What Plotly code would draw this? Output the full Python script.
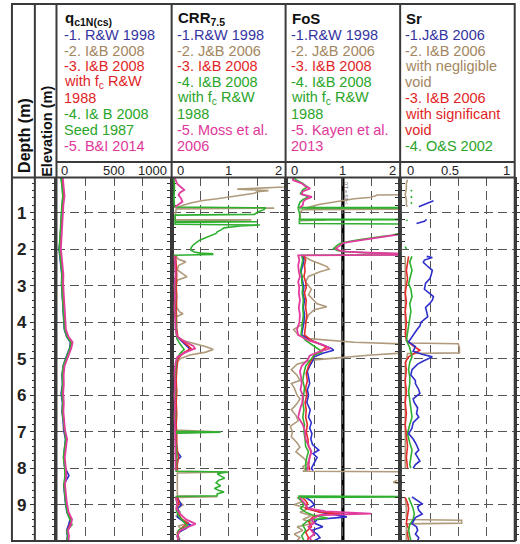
import plotly.graph_objects as go

W, H = 520, 544
FONT = "Arial, Liberation Sans, sans-serif"

# ---------------- data ----------------
# q_c1N(cs) panel: shared depth grid (m)
qc_depth = [0.05, 0.3, 0.55, 0.8, 1.05, 1.3, 1.55, 1.8, 2.0, 2.2,
            2.45, 2.7, 2.95, 3.2, 3.45, 3.7, 3.95, 4.2, 4.4, 4.55,
            4.7, 4.85, 5.0, 5.2, 5.45, 5.7, 5.95, 6.2, 6.45, 6.7,
            6.95, 7.2, 7.45, 7.7, 7.95, 8.2, 8.45, 8.7, 8.95, 9.2,
            9.4, 9.55, 9.7, 9.85, 9.98]
qc_rw1998 = [40, 52, 56, 48, 44, 40, 36, 30, 22, 30,
             40, 46, 44, 48, 52, 56, 60, 68, 88, 120,
             115, 95, 78, 58, 48, 52, 40, 52, 48, 58,
             62, 78, 70, 62, 70, 108, 62, 68, 78, 90,
             118, 105, 88, 95, 90]
qc_ib2008 = [42, 55, 60, 50, 46, 42, 38, 33, 25, 34,
             44, 50, 47, 50, 55, 58, 63, 72, 95, 128,
             122, 100, 82, 62, 52, 55, 48, 56, 52, 62,
             66, 85, 74, 64, 72, 76, 66, 72, 82, 96,
             125, 112, 92, 100, 95]
qc_ib2008_fc = [45, 58, 62, 52, 48, 44, 40, 35, 28, 36,
                46, 52, 50, 54, 58, 62, 66, 75, 98, 135,
                125, 104, 85, 64, 55, 58, 50, 58, 54, 64,
                68, 88, 78, 66, 75, 80, 68, 75, 85, 100,
                130, 118, 95, 104, 98]
qc_ib2008_seed = [40, 50, 55, 47, 42, 38, 34, 30, 24, 32,
                  42, 48, 45, 50, 54, 57, 61, 70, 92, 124,
                  118, 98, 80, 58, 50, 53, 46, 54, 50, 60,
                  64, 80, 70, 60, 70, 74, 64, 70, 80, 92,
                  120, 135, 90, 98, 92]
qc_bi2014 = [55, 65, 70, 60, 56, 52, 48, 44, 38, 45,
             55, 60, 58, 62, 66, 70, 74, 82, 105, 140,
             130, 110, 90, 70, 62, 64, 58, 64, 60, 70,
             74, 92, 82, 72, 80, 86, 74, 80, 90, 105,
             135, 125, 100, 108, 104]

# CRR7.5 panel: (depth, value) pairs, None = no value
crr_jb2006 = [(0.03, 2.6), (0.26, 2.3), (0.3, 1.98), (0.36, 1.15), (0.4, 1.7), (0.43, 1.5), (0.47, 1.45),
              (0.52, 1.25), (0.57, 1.0), (0.62, 0.8), (0.67, 0.55), (0.73, 0.35), (0.8, 0.2), (0.86, 0.1),
              (0.88, 1.8), (0.9, 0.08), (1.0, 0.07), (1.1, 0.06), (1.19, 0.06), (1.2, 1.4), (1.22, 0.06),
              (1.25, None), (2.18, 0.07), (2.28, 0.12), (2.35, 0.25), (2.45, 0.12), (2.57, 0.1), (2.66, 0.18),
              (2.76, 0.27), (2.85, 0.1), (3.0, 0.08), (3.2, 0.07), (3.4, 0.08), (3.6, 0.09), (3.72, 0.14),
              (3.77, 0.2), (3.85, 0.08), (4.0, 0.07), (4.2, 0.07), (4.4, 0.09), (4.5, 0.2), (4.6, 0.45),
              (4.68, 0.62), (4.75, 0.73), (4.82, 0.6), (4.9, 0.32), (5.0, 0.15), (5.1, 0.09), (5.4, 0.07),
              (5.8, 0.08), (6.2, 0.07), (6.6, 0.08), (6.95, 0.07), (7.0, 0.8), (7.03, 0.07), (7.3, 0.08),
              (7.6, 0.09), (7.9, 0.07), (8.08, 0.08), (8.1, 0.96), (8.13, 0.1), (8.4, 0.1), (8.75, 0.1),
              (8.78, 0.8), (8.8, 0.08), (8.9, 0.12), (9.0, 0.2), (9.1, 0.1), (9.2, 0.15), (9.3, 0.08),
              (9.4, 0.2), (9.5, 0.3), (9.58, 0.12), (9.7, 0.18), (9.8, 0.1), (9.95, 0.15)]
crr_rw1998 = [(2.18, 0.06), (2.4, 0.07), (2.7, 0.08), (3.0, 0.07), (3.3, 0.08), (3.6, 0.07), (3.9, 0.08),
              (4.2, 0.08), (4.4, 0.1), (4.55, 0.2), (4.68, 0.3), (4.75, 0.33), (4.85, 0.2), (5.0, 0.1),
              (5.3, 0.08), (5.6, 0.07), (5.9, 0.08), (6.2, 0.07), (6.5, 0.08), (6.8, 0.07), (7.1, 0.08),
              (7.3, 0.08), (7.55, 0.1), (7.68, 0.16), (7.8, 0.09), (8.05, 0.1), (8.08, None), (8.8, 0.1),
              (8.9, 0.14), (9.0, 0.17), (9.1, 0.1), (9.2, 0.13), (9.33, 0.1), (9.45, 0.2), (9.55, 0.33),
              (9.65, 0.25), (9.75, 0.12), (9.88, 0.1), (9.98, 0.14)]
crr_ib2008 = [(2.18, 0.07), (2.4, 0.08), (2.7, 0.09), (3.0, 0.08), (3.3, 0.09), (3.6, 0.08), (3.9, 0.09),
              (4.2, 0.09), (4.4, 0.11), (4.55, 0.22), (4.65, 0.3), (4.72, 0.34), (4.85, 0.2), (5.0, 0.11),
              (5.3, 0.09), (5.6, 0.08), (5.9, 0.09), (6.2, 0.08), (6.5, 0.09), (6.8, 0.08), (7.1, 0.09),
              (7.4, 0.09), (7.7, 0.12), (7.9, 0.1), (8.06, 0.1), (8.08, None), (8.8, 0.1), (8.95, 0.13),
              (9.1, 0.09), (9.25, 0.12), (9.4, 0.18), (9.5, 0.28), (9.6, 0.2), (9.75, 0.1), (9.9, 0.12),
              (9.98, 0.1)]
crr_ib2008_fc = [(0.03, 0.04), (0.3, 0.05), (0.6, 0.04), (0.85, 0.05), (0.87, 1.65), (0.92, 1.62),
                 (0.98, 1.52), (1.05, 1.45), (1.07, 0.06), (1.15, 0.06), (1.24, 0.06), (1.25, 1.5),
                 (1.27, 0.06), (1.32, 0.06), (1.34, 1.55), (1.37, 1.2), (1.42, 0.92), (1.48, 0.86),
                 (1.53, 0.8), (1.57, 0.78), (1.62, 0.7), (1.66, 0.63), (1.71, 0.57), (1.75, 0.5),
                 (1.8, 0.45), (1.84, 0.42), (1.9, 0.37), (1.97, 0.34), (2.03, 0.34), (2.08, 0.4),
                 (2.11, 0.5), (2.13, 0.72), (2.15, 0.72), (2.17, 0.05), (2.4, 0.06), (2.7, 0.07),
                 (3.0, 0.06), (3.3, 0.07), (3.6, 0.06), (3.9, 0.07), (4.2, 0.07), (4.45, 0.09), (4.6, 0.15),
                 (4.75, 0.22), (4.85, 0.15), (5.0, 0.09), (5.3, 0.07), (5.6, 0.06), (5.9, 0.07), (6.2, 0.06),
                 (6.5, 0.07), (6.8, 0.06), (6.99, 0.07), (7.01, 0.86), (7.04, 0.07), (7.3, 0.07), (7.6, 0.09),
                 (7.9, 0.08), (8.08, 0.08), (8.1, 0.99), (8.15, 0.8), (8.2, 0.85), (8.27, 0.93), (8.33, 0.82),
                 (8.4, 0.78), (8.48, 0.86), (8.55, 0.75), (8.6, 0.82), (8.65, 0.92), (8.7, 0.8), (8.75, 0.8),
                 (8.77, 0.08), (8.85, 0.08), (9.0, 0.1), (9.15, 0.08), (9.3, 0.12), (9.45, 0.2), (9.58, 0.28),
                 (9.7, 0.12), (9.85, 0.1), (9.98, 0.12)]
crr_moss2006 = [(0.03, 0.05), (0.12, 0.07), (0.22, 0.1), (0.3, 0.16), (0.38, 0.22), (0.45, 0.15), (0.52, 0.12),
                (0.6, 0.16), (0.7, 0.19), (0.78, 0.12), (0.85, 0.06), (0.9, None), (2.18, 0.05), (2.4, 0.06),
                (2.7, 0.07), (3.0, 0.05), (3.3, 0.06), (3.6, 0.05), (3.9, 0.06), (4.2, 0.07), (4.4, 0.1),
                (4.55, 0.25), (4.65, 0.38), (4.72, 0.41), (4.82, 0.25), (4.95, 0.1), (5.1, 0.07), (5.4, 0.05),
                (5.7, 0.06), (6.0, 0.05), (6.3, 0.06), (6.6, 0.05), (6.9, 0.06), (7.2, 0.06), (7.5, 0.07),
                (7.8, 0.06), (8.06, 0.07), (8.08, None), (8.8, 0.07), (8.95, 0.1), (9.1, 0.08), (9.25, 0.15),
                (9.4, 0.25), (9.52, 0.42), (9.6, 0.3), (9.7, 0.15), (9.85, 0.1), (9.98, 0.12)]

# FoS panel
fos_rw1998 = [(2.18, 0.3), (2.3, 0.32), (2.45, 0.3), (2.6, 0.27), (2.75, 0.28), (2.9, 0.3), (3.05, 0.32),
              (3.2, 0.3), (3.4, 0.33), (3.6, 0.31), (3.8, 0.33), (4.0, 0.32), (4.2, 0.3), (4.35, 0.28),
              (4.5, 0.45), (4.62, 0.65), (4.72, 0.8), (4.77, 0.84), (4.85, 0.65), (4.95, 0.5), (5.04, 0.48),
              (5.2, 0.42), (5.35, 0.38), (5.5, 0.4), (5.68, 0.42), (5.85, 0.38), (6.0, 0.4), (6.2, 0.37),
              (6.4, 0.43), (6.6, 0.4), (6.75, 0.45), (6.9, 0.42), (7.05, 0.46), (7.2, 0.44), (7.35, 0.47),
              (7.5, 0.58), (7.6, 0.48), (7.7, 0.55), (7.87, 0.5), (8.0, 0.45), (8.06, 0.48), (8.08, None),
              (8.8, 0.35), (8.9, 0.45), (9.0, 0.5), (9.1, 0.4), (9.2, 0.6), (9.33, 1.07), (9.4, 0.55),
              (9.5, 0.5), (9.6, 0.65), (9.7, 0.45), (9.8, 0.55), (9.9, 0.6), (9.98, 0.5)]
fos_jb2006 = [(0.03, 3.0), (0.5, 3.0), (0.52, 1.6), (0.55, 1.55), (0.58, 1.5), (0.62, 1.2), (0.66, 1.05),
              (0.72, 0.8), (0.78, 0.58), (0.84, 0.43), (0.88, 0.35), (0.9, 3.0), (0.92, 0.3), (1.0, 0.25),
              (1.1, 0.26), (1.19, 0.25), (1.2, 0.7), (1.22, 0.25), (1.25, None), (2.18, 0.3), (2.3, 0.43),
              (2.4, 0.6), (2.48, 0.72), (2.55, 0.76), (2.62, 0.6), (2.75, 0.4), (2.9, 0.35), (3.1, 0.45),
              (3.25, 0.4), (3.4, 0.49), (3.5, 0.55), (3.58, 0.72), (3.66, 0.5), (3.8, 0.4), (4.0, 0.35),
              (4.2, 0.14), (4.35, 0.22), (4.45, 0.4), (4.55, 1.2), (4.62, 2.5), (4.8, 2.5), (4.9, 1.5),
              (4.97, 0.9), (5.04, 0.45), (5.15, 0.2), (5.3, 0.1), (5.45, 0.2), (5.6, 0.25), (5.68, 0.1),
              (5.8, 0.15), (6.0, 0.2), (6.1, 0.25), (6.23, 0.2), (6.4, 0.1), (6.55, 0.18), (6.7, 0.22),
              (6.85, 0.08), (7.0, 0.12), (7.14, 0.1), (7.3, 0.2), (7.42, 0.25), (7.55, 0.18), (7.7, 0.3),
              (7.87, 0.4), (7.95, 0.3), (8.05, 0.35), (8.08, 0.3), (8.1, 3.0), (8.12, None), (8.33, 1.95),
              (8.38, 1.88), (8.42, 1.98), (8.44, None), (8.8, 0.2), (8.9, 0.3), (9.0, 0.15), (9.1, 0.4),
              (9.2, 0.25), (9.3, 0.45), (9.4, 0.3), (9.5, 0.5), (9.6, 0.2), (9.7, 0.3), (9.8, 0.15),
              (9.9, 0.25), (9.98, 0.2)]
fos_ib2008 = [(2.18, 0.32), (2.3, 0.35), (2.45, 0.33), (2.6, 0.34), (2.75, 0.32), (2.9, 0.35), (3.05, 0.36),
              (3.2, 0.33), (3.4, 0.36), (3.6, 0.35), (3.8, 0.37), (4.0, 0.36), (4.2, 0.34), (4.35, 0.33),
              (4.5, 0.45), (4.6, 0.6), (4.68, 0.72), (4.78, 0.62), (4.9, 0.5), (5.04, 0.45), (5.2, 0.4),
              (5.4, 0.36), (5.6, 0.38), (5.8, 0.35), (6.0, 0.37), (6.2, 0.34), (6.4, 0.36), (6.6, 0.35),
              (6.8, 0.38), (7.0, 0.36), (7.2, 0.39), (7.4, 0.4), (7.55, 0.45), (7.7, 0.42), (7.87, 0.4),
              (8.06, 0.42), (8.08, None), (8.8, 0.3), (8.95, 0.38), (9.1, 0.35), (9.2, 0.6), (9.24, 0.96),
              (9.3, 0.5), (9.45, 0.4), (9.6, 0.45), (9.75, 0.35), (9.9, 0.4), (9.98, 0.38)]
fos_ib2008_fc = [(0.03, 0.12), (0.1, 0.18), (0.2, 0.3), (0.3, 0.38), (0.38, 0.3), (0.48, 0.26), (0.57, 0.4),
                 (0.65, 0.3), (0.72, 0.25), (0.8, 0.24), (0.86, 0.22), (0.87, 3.0), (0.89, 0.22), (1.0, 0.24),
                 (1.1, 0.25), (1.18, 0.24), (1.19, 3.0), (1.21, 0.24), (1.3, 0.24), (1.32, 3.0), (1.55, 3.0),
                 (1.57, 1.99), (1.62, 1.85), (1.66, 1.67), (1.7, 1.45), (1.75, 1.25), (1.8, 1.08), (1.84, 0.96),
                 (1.9, 0.9), (1.98, 0.84), (2.04, 0.9), (2.07, 1.02), (2.1, 1.4), (2.13, 2.02), (2.15, 3.0),
                 (2.17, 0.28), (2.3, 0.3), (2.45, 0.28), (2.6, 0.26), (2.75, 0.29), (2.9, 0.28), (3.05, 0.3),
                 (3.2, 0.29), (3.4, 0.31), (3.6, 0.3), (3.8, 0.31), (4.0, 0.3), (4.2, 0.28), (4.35, 0.27),
                 (4.5, 0.35), (4.65, 0.5), (4.75, 0.6), (4.81, 0.64), (4.9, 0.5), (5.04, 0.43), (5.2, 0.35),
                 (5.4, 0.32), (5.6, 0.3), (5.8, 0.33), (6.0, 0.31), (6.2, 0.3), (6.4, 0.32), (6.6, 0.3),
                 (6.8, 0.33), (7.0, 0.32), (7.2, 0.34), (7.4, 0.35), (7.55, 0.4), (7.7, 0.37), (7.87, 0.35),
                 (8.06, 0.36), (8.08, None), (8.76, 0.22), (8.78, 3.0), (8.8, 0.22), (8.9, 0.28), (9.0, 0.32),
                 (9.1, 0.26), (9.2, 0.35), (9.3, 0.5), (9.36, 0.73), (9.42, 0.4), (9.55, 0.3), (9.7, 0.35),
                 (9.85, 0.28), (9.98, 0.32)]
fos_kayen2013 = [(0.03, 0.13), (0.11, 0.13), (0.2, 0.28), (0.27, 0.34), (0.34, 0.43), (0.42, 0.3), (0.5, 0.28),
                 (0.57, 0.46), (0.64, 0.35), (0.7, 0.31), (0.8, 0.3), (0.86, 0.25), (0.9, None), (1.55, 3.0),
                 (1.57, 2.05), (1.62, 1.9), (1.66, 1.72), (1.7, 1.5), (1.75, 1.3), (1.8, 1.12), (1.84, 1.0),
                 (1.9, 0.94), (1.98, 0.88), (2.04, 0.94), (2.07, 1.06), (2.1, 1.45), (2.13, 2.1), (2.15, 3.0),
                 (2.17, 0.22), (2.3, 0.24), (2.45, 0.22), (2.6, 0.23), (2.75, 0.25), (2.9, 0.22), (3.05, 0.24),
                 (3.2, 0.23), (3.4, 0.25), (3.6, 0.23), (3.8, 0.25), (4.0, 0.24), (4.2, 0.2), (4.35, 0.22),
                 (4.5, 0.4), (4.62, 0.65), (4.72, 0.78), (4.8, 0.6), (4.92, 0.42), (5.04, 0.38), (5.2, 0.28),
                 (5.35, 0.25), (5.5, 0.27), (5.68, 0.28), (5.85, 0.26), (6.0, 0.3), (6.2, 0.29), (6.4, 0.25),
                 (6.6, 0.22), (6.8, 0.3), (7.0, 0.34), (7.2, 0.35), (7.4, 0.4), (7.55, 0.45), (7.7, 0.42),
                 (7.87, 0.4), (8.06, 0.38), (8.08, None), (8.8, 0.25), (8.9, 0.3), (9.0, 0.35), (9.1, 0.4),
                 (9.18, 0.7), (9.24, 1.49), (9.28, 0.6), (9.4, 0.45), (9.5, 0.5), (9.6, 0.4), (9.7, 0.45),
                 (9.8, 0.5), (9.9, 0.42), (9.98, 0.45)]

# Sr panel
sr_jb2006 = [(0.68, 0.28), (0.72, 0.25), (0.76, 0.22), (0.8, 0.18), (0.84, 0.15), (0.86, None), (1.19, 0.22),
             (1.24, 0.2), (1.3, 0.13), (1.32, None), (2.2, 0.22), (2.23, 0.27), (2.3, 0.2), (2.36, 0.19),
             (2.45, 0.22), (2.58, 0.27), (2.7, 0.26), (2.8, 0.25), (2.94, 0.21), (3.1, 0.2), (3.2, 0.24),
             (3.3, 0.28), (3.4, 0.27), (3.48, 0.25), (3.6, 0.21), (3.75, 0.22), (3.85, 0.23), (4.0, 0.17),
             (4.1, 0.16), (4.22, 0.13), (4.4, 0.09), (4.54, 0.06), (4.67, 0.12), (4.8, 0.1), (4.88, 0.18),
             (4.95, 0.27), (5.05, 0.2), (5.15, 0.14), (5.3, 0.09), (5.45, 0.08), (5.6, 0.12), (5.68, 0.12),
             (5.85, 0.15), (5.95, 0.16), (6.1, 0.1), (6.2, 0.11), (6.35, 0.14), (6.5, 0.13), (6.6, 0.15),
             (6.75, 0.1), (6.9, 0.09), (7.05, 0.06), (7.2, 0.1), (7.3, 0.12), (7.5, 0.15), (7.6, 0.12),
             (7.7, 0.14), (7.8, 0.16), (7.9, 0.12), (8.0, 0.1), (8.05, None), (8.78, 0.09), (8.85, 0.12),
             (8.97, 0.18), (9.05, 0.14), (9.15, 0.15), (9.25, 0.18), (9.35, 0.12), (9.52, 0.09), (9.6, 0.13),
             (9.7, 0.14), (9.8, 0.12), (9.9, 0.15), (9.98, 0.14)]
sr_ib2006_negl = [(0.1, 0.05), (0.2, 0.04), (0.35, 0.04), (0.5, 0.03), (0.65, 0.04), (0.8, 0.04), (0.84, 0.05),
                  (0.86, None), (2.2, 0.03), (2.5, 0.03), (3.0, 0.03), (3.5, 0.03), (4.0, 0.03), (4.45, 0.04),
                  (4.57, 0.06), (4.59, 0.5), (4.7, 0.51), (4.84, 0.51), (4.86, 0.05), (5.2, 0.03), (5.8, 0.03),
                  (6.4, 0.03), (7.0, 0.03), (7.6, 0.03), (8.0, 0.03), (8.05, None), (8.8, 0.03), (9.1, 0.04),
                  (9.4, 0.04), (9.42, 0.53), (9.5, 0.53), (9.52, 0.04), (9.75, 0.04), (9.98, 0.04)]
sr_ib2006_sig = [(2.2, 0.06), (2.35, 0.05), (2.58, 0.04), (2.8, 0.05), (3.0, 0.04), (3.2, 0.03), (3.45, 0.04),
                 (3.7, 0.03), (4.0, 0.04), (4.3, 0.03), (4.5, 0.04), (4.65, 0.1), (4.77, 0.16), (4.85, 0.12),
                 (4.95, 0.06), (5.1, 0.03), (5.3, 0.04), (5.6, 0.03), (5.9, 0.04), (6.2, 0.03), (6.5, 0.04),
                 (6.8, 0.03), (7.1, 0.04), (7.4, 0.05), (7.7, 0.04), (8.0, 0.05), (8.05, None), (8.8, 0.03),
                 (8.95, 0.05), (9.1, 0.06), (9.3, 0.05), (9.5, 0.04), (9.65, 0.06), (9.8, 0.05), (9.98, 0.06)]
sr_os2002 = [(0.38, 0.09), (0.42, 0.08), (0.46, None), (0.55, 0.08), (0.6, 0.09), (0.64, None), (0.72, 0.08),
             (0.76, 0.09), (0.78, None), (1.2, 0.04), (1.23, 0.05), (1.25, None), (1.93, 0.03), (2.0, 0.04),
             (2.02, None), (2.2, 0.09), (2.35, 0.07), (2.58, 0.09), (2.8, 0.07), (2.94, 0.06), (3.1, 0.08),
             (3.3, 0.09), (3.5, 0.07), (3.7, 0.08), (3.9, 0.07), (4.1, 0.06), (4.3, 0.05), (4.5, 0.04),
             (4.7, 0.07), (4.85, 0.08), (4.95, 0.09), (5.1, 0.07), (5.3, 0.06), (5.5, 0.07), (5.68, 0.07),
             (5.9, 0.06), (6.1, 0.07), (6.3, 0.08), (6.6, 0.09), (6.8, 0.07), (7.05, 0.05), (7.3, 0.07),
             (7.5, 0.09), (7.7, 0.08), (7.9, 0.07), (8.0, 0.08), (8.05, None), (8.8, 0.06), (8.95, 0.08),
             (9.1, 0.1), (9.25, 0.11), (9.4, 0.1), (9.55, 0.07), (9.7, 0.06), (9.85, 0.07), (9.98, 0.08)]

# header texts
qc_legend = [("-1. R&W 1998", "blue"), ("-2. I&B 2008", "tan"), ("-3. I&B 2008", "red"),
             ("with f<sub>c</sub> R&W", "red"), ("1988", "red"), ("-4. I& B 2008", "green"),
             ("Seed 1987", "green"), ("-5. B&I 2014", "mag")]
crr_legend = [("-1.R&W 1998", "blue"), ("-2. J&B 2006", "tan"), ("-3. I&B 2008", "red"),
              ("-4. I&B 2008", "green"), ("with f<sub>c</sub> R&W", "green"), ("1988", "green"),
              ("-5. Moss et al.", "mag"), ("2006", "mag")]
fos_legend = [("-1.R&W 1998", "blue"), ("-2. J&B 2006", "tan"), ("-3. I&B 2008", "red"),
              ("-4. I&B 2008", "green"), ("with f<sub>c</sub> R&W", "green"), ("1988", "green"),
              ("-5. Kayen et al.", "mag"), ("2013", "mag")]
sr_legend = [("-1.J&B 2006", "blue"), ("-2. I&B 2006", "tan"), ("with negligible", "tan"), ("void", "tan"),
             ("-3. I&B 2006", "red"), ("with significant", "red"), ("void", "red"), ("-4. O&S 2002", "green")]

qc_ticks = [0, 500, 1000]
crr_ticks = [0, 1, 2]
fos_ticks = [0, 1, 2]
sr_ticks = [0, 0.5, 1]

# ---------------- style ----------------
LINE_COL = {"blue": "#2f2fcc", "tan": "#b09a7c", "red": "#e62a2a", "green": "#2fb02f", "mag": "#e23c9e"}
TEXT_COL = {"blue": "#35359f", "tan": "#a3865f", "red": "#e11f27", "green": "#2aa52a", "mag": "#e0389a"}
FRAME = "#3a3a3a"
GRID = "#555555"


def px(x):
    return x / W


def py(y):
    return 1 - y / H


def unzip(pairs):
    return [p[0] for p in pairs], [p[1] for p in pairs]


fig = go.Figure()

# panels: (axis suffix, x-range, grid step, series)
panels = [
    ("", [0, 1000], 250, [(list(zip(qc_depth, qc_ib2008)), "tan"), (list(zip(qc_depth, qc_rw1998)), "blue"),
                         (list(zip(qc_depth, qc_ib2008_fc)), "red"), (list(zip(qc_depth, qc_ib2008_seed)), "green"),
                         (list(zip(qc_depth, qc_bi2014)), "mag")]),
    ("2", [0, 2], 0.5, [(crr_jb2006, "tan"), (crr_rw1998, "blue"), (crr_ib2008, "red"),
                        (crr_ib2008_fc, "green"), (crr_moss2006, "mag")]),
    ("3", [0, 2], 0.5, [(fos_jb2006, "tan"), (fos_rw1998, "blue"), (fos_ib2008, "red"),
                        (fos_ib2008_fc, "green"), (fos_kayen2013, "mag")]),
    ("4", [-0.015, 1], 0.25, [(sr_ib2006_negl, "tan"), (sr_ib2006_sig, "red"), (sr_os2002, "green"),
                              (sr_jb2006, "blue")]),
]
col_edges = [56.7, 172.3, 286.7, 401.7, 516.7]
PT, PB = 177, 541
YRANGE = [9.99, 0.027]

layout = dict(width=W, height=H, margin=dict(l=0, r=0, t=0, b=0), paper_bgcolor="white",
              plot_bgcolor="white", showlegend=False, font=dict(family=FONT))

for i, (suf, xr, step, series) in enumerate(panels):
    for pairs, ck in series:
        d, v = unzip(pairs)
        fig.add_trace(go.Scatter(x=v, y=d, mode="lines", xaxis="x" + suf, yaxis="y" + suf,
                                 line=dict(color=LINE_COL[ck], width=1.6 if ck != "mag" else 1.8),
                                 connectgaps=False, hoverinfo="skip"))
    layout["xaxis" + suf] = dict(domain=[px(col_edges[i]), px(col_edges[i + 1])], range=xr, anchor="y" + suf,
                                 showticklabels=False, ticks="", showgrid=True, tick0=0, dtick=step,
                                 griddash="9px,5px", gridcolor=GRID, gridwidth=1.4, zeroline=False,
                                 showline=False, fixedrange=True)
    layout["yaxis" + suf] = dict(domain=[py(PB), py(PT)], range=YRANGE, anchor="x" + suf, showgrid=True,
                                 tick0=0, dtick=1, griddash="9px,5px", gridcolor=GRID, gridwidth=1.4,
                                 zeroline=False, showticklabels=False, ticks="outside", ticklen=4,
                                 tickwidth=1.2, tickcolor="#333", showline=True, linecolor=FRAME,
                                 linewidth=1.5, mirror="ticks",
                                 minor=dict(dtick=0.2, tick0=0, ticks="outside", ticklen=3,
                                            tickcolor="#333", showgrid=False))

# depth axis in first column
fig.add_trace(go.Scatter(x=[None], y=[None], xaxis="x", yaxis="y5", hoverinfo="skip", showlegend=False))
layout["yaxis5"] = dict(overlaying="y", anchor="free", position=px(35), side="left", range=YRANGE,
                        tick0=0, dtick=1, ticks="outside", ticklen=5, tickwidth=1.2, tickcolor="#333",
                        showgrid=False, zeroline=False, showline=False,
                        tickfont=dict(size=17, color="#222", family=FONT, weight="bold"),
                        minor=dict(dtick=0.2, tick0=0, ticks="outside", ticklen=3, tickcolor="#333",
                                   showgrid=False))

fig.update_layout(**layout)

# frame lines
shapes = []
shapes.append(dict(type="rect", xref="paper", yref="paper", x0=px(12), x1=px(516.7), y0=py(541), y1=py(4),
                   line=dict(color=FRAME, width=2), layer="above"))
for xv in [35, 56.7, 172.3, 286.7, 401.7]:
    shapes.append(dict(type="line", xref="paper", yref="paper", x0=px(xv), x1=px(xv), y0=py(541), y1=py(4),
                       line=dict(color=FRAME, width=2), layer="above"))
shapes.append(dict(type="line", xref="paper", yref="paper", x0=px(56.7), x1=px(516.7), y0=py(162), y1=py(162),
                   line=dict(color=FRAME, width=2), layer="above"))
shapes.append(dict(type="line", xref="paper", yref="paper", x0=px(12), x1=px(516.7), y0=py(177.5), y1=py(177.5),
                   line=dict(color=FRAME, width=2), layer="above"))
# FoS = 1 line
shapes.append(dict(type="line", xref="x3", yref="paper", x0=1, x1=1, y0=py(541), y1=py(177),
                   line=dict(color="black", width=3.2), layer="below"))
fig.update_layout(shapes=shapes)

ann = []
# titles
titles = [("<b>q<sub>c1N(cs)</sub></b>", 63), ("<b>CRR<sub>7.5</sub></b>", 176.5), ("<b>FoS</b>", 291),
          ("<b>Sr</b>", 406)]
for t, xx in titles:
    ann.append(dict(text=t, x=px(xx), y=py(19), xref="paper", yref="paper", xanchor="left", yanchor="middle",
                    showarrow=False, font=dict(size=15, color="#111", family=FONT)))
# legends
ly = [35, 50.7, 66.5, 82.3, 98.2, 114, 129.8, 145.6]
for leg, xx in [(qc_legend, 63), (crr_legend, 176.5), (fos_legend, 291), (sr_legend, 406)]:
    for (t, ck), yy in zip(leg, ly):
        ann.append(dict(text=t, x=px(xx), y=py(yy), xref="paper", yref="paper", xanchor="left",
                        yanchor="middle", showarrow=False, borderpad=0,
                        font=dict(size=14.5, color=TEXT_COL[ck], family=FONT)))
# axis labels on top row
tick_sets = [("x", qc_ticks, [3, 0, -3]), ("x2", crr_ticks, [3, 0, -2]), ("x3", fos_ticks, [3, 0, -2]),
             ("x4", sr_ticks, [3, -8, -3])]
for xr_, vals, shifts in tick_sets:
    for j, (v, sh) in enumerate(zip(vals, shifts)):
        anchor = "left" if j == 0 else ("right" if j == len(vals) - 1 else "center")
        ann.append(dict(text=str(v), x=v, y=py(170.5), xref=xr_, yref="paper", xanchor=anchor,
                        yanchor="middle", xshift=sh, showarrow=False,
                        font=dict(size=13, color="#222", family=FONT)))
# side titles
ann.append(dict(text="<b>Depth (m)</b>", x=px(24), y=py(135), xref="paper", yref="paper", textangle=-90,
                xanchor="center", yanchor="middle", showarrow=False, font=dict(size=16, color="#111", family=FONT)))
ann.append(dict(text="<b>Elevation (m)</b>", x=px(47), y=py(131), xref="paper", yref="paper", textangle=-90,
                xanchor="center", yanchor="middle", showarrow=False, font=dict(size=14.5, color="#111", family=FONT)))
# tiny FoS=1 label
ann.append(dict(text="FoS = 1.0", x=px(347), y=py(193), xref="paper", yref="paper", textangle=-90,
                xanchor="center", yanchor="middle", showarrow=False, font=dict(size=5, color="#555", family=FONT)))
fig.update_layout(annotations=ann)

fig.write_html("out.html")
